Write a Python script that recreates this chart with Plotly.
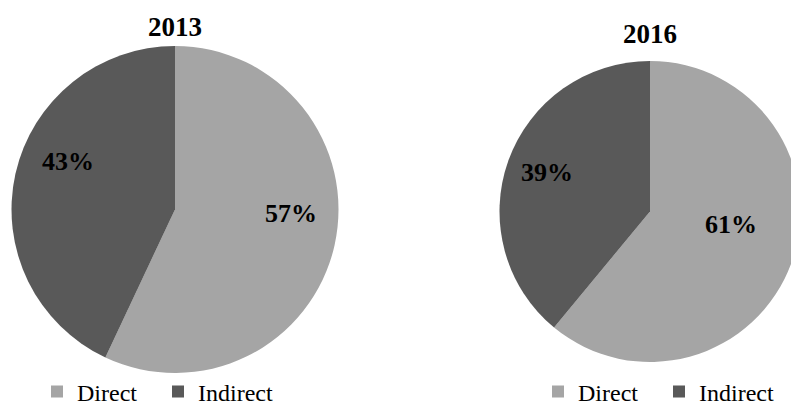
import plotly.graph_objects as go

labels = ["Direct", "Indirect"]
values_2013 = [57, 43]
values_2016 = [61, 39]
years = ["2013", "2016"]
colors = ["#a5a5a5", "#595959"]

W, H = 801, 405
FONT = "Liberation Serif, Times New Roman, serif"

def px_x(p):
    return p / W

def px_y(p):
    return (H - p) / H

fig = go.Figure()
common = dict(
    sort=False, direction="clockwise", rotation=0,
    marker=dict(colors=colors, line=dict(width=0)),
    textinfo="none",
    hoverinfo="label+percent",
)
# pie legend entries are shared by label across traces; a zero-width space keeps
# the second chart's entries distinct so that each chart gets its own legend
labels_2016 = [lab + "\u200b" for lab in labels]
fig.add_trace(go.Pie(labels=labels, values=values_2013, name=years[0], legend="legend",
                     domain=dict(x=[px_x(11.5), px_x(338.5)], y=[px_y(373), px_y(46)]),
                     **common))
fig.add_trace(go.Pie(labels=labels_2016, values=values_2016, name=years[1], legend="legend2",
                     domain=dict(x=[px_x(499.5), px_x(800.5)], y=[px_y(362), px_y(61)]),
                     **common))

# titles
for txt, cx, cy in [(years[0], 175, 27.5), (years[1], 650, 34)]:
    fig.add_annotation(text=txt, x=px_x(cx), y=px_y(cy), xref="paper", yref="paper",
                       xanchor="center", yanchor="middle", showarrow=False,
                       font=dict(family=FONT, size=27, color="black", weight="bold"))

# percentage labels (text computed from the data)
label_pos = {
    (0, 0): (291, 214), (0, 1): (67.5, 161.5),
    (1, 0): (731, 224.5), (1, 1): (547, 172),
}
for ti, vals in enumerate([values_2013, values_2016]):
    tot = sum(vals)
    for si, v in enumerate(vals):
        cx, cy = label_pos[(ti, si)]
        fig.add_annotation(text=f"{round(100 * v / tot)}%", x=px_x(cx), y=px_y(cy),
                           xref="paper", yref="paper", xanchor="center", yanchor="middle",
                           showarrow=False,
                           font=dict(family=FONT, size=26, color="black", weight="bold"))

legend_style = dict(orientation="h", yanchor="middle", xanchor="left",
                    font=dict(family=FONT, size=24, color="black"),
                    entrywidth=76, entrywidthmode="pixels",
                    bgcolor="rgba(0,0,0,0)", traceorder="normal")
fig.update_layout(
    width=W, height=H, margin=dict(l=0, r=0, t=0, b=0, autoexpand=False),
    font=dict(family=FONT, size=24, color="black"),
    paper_bgcolor="white", plot_bgcolor="white",
    legend=dict(x=px_x(37), y=px_y(392), **legend_style),
    legend2=dict(x=px_x(538), y=px_y(392), **legend_style),
)

fig.write_html("out.html", post_script="document.body.style.overflow='hidden';document.documentElement.style.overflow='hidden';")
